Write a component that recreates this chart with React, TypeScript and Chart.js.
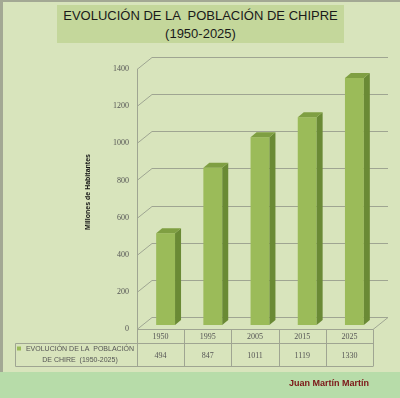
import React, { useEffect, useRef } from "react";
import { Chart, registerables } from "chart.js";

Chart.register(...registerables);

// ---- data ----
const categories = ["1950", "1995", "2005", "2015", "2025"];
const values = [494, 847, 1011, 1119, 1330];
const seriesLabelLines = ["EVOLUCIÓN DE LA  POBLACIÓN", "DE CHIRE  (1950-2025)"];
const titleLines = ["EVOLUCIÓN DE LA  POBLACIÓN DE CHIPRE", "(1950-2025)"];
const yAxisTitle = "Millones de Habitantes";
const authorText = "Juan Martín Martín";
const yMin = 0;
const yMax = 1400;
const yStep = 200;

// ---- styles ----
const BG = "#d8e4bc";
const TITLE_BG = "#c4d79b";
const BAND = "#b7dca9";
const BAR_FRONT = "#9bbb59";
const BAR_SIDE = "#6a8a35";
const BAR_TOP = "#7f9f42";
const GRID = "#9fa592";
const TEXT = "#555";
const WALL_DX = 15;
const WALL_DY = 12;
const BAR_SHIFT_X = 5;
const BAR_SHIFT_Y = 4;
const BAR_DX = 6;
const BAR_DY = 5;

const threeD = {
  id: "threeD",
  beforeDatasetsDraw(chart: any) {
    const { ctx, chartArea: a, scales } = chart;
    const y = scales.y;
    ctx.save();
    ctx.strokeStyle = GRID;
    ctx.lineWidth = 1;
    ctx.beginPath();
    y.ticks.forEach((t: any) => {
      const py = Math.round(y.getPixelForValue(t.value)) + 0.5;
      ctx.moveTo(a.left, py);
      ctx.lineTo(a.left + WALL_DX, py - WALL_DY);
      ctx.lineTo(a.right + WALL_DX, py - WALL_DY);
    });
    const y0 = Math.round(y.getPixelForValue(0)) + 0.5;
    ctx.moveTo(a.right + WALL_DX, y0 - WALL_DY);
    ctx.lineTo(a.right, y0);
    ctx.moveTo(a.left, y0);
    ctx.lineTo(a.right, y0);
    ctx.stroke();
    ctx.restore();
    ctx.save();
    ctx.translate(BAR_SHIFT_X, -BAR_SHIFT_Y);
  },
  afterDatasetsDraw(chart: any) {
    const { ctx } = chart;
    const meta = chart.getDatasetMeta(0);
    meta.data.forEach((bar: any) => {
      const { x, y, base, width } = bar.getProps(["x", "y", "base", "width"], true);
      const l = x - width / 2;
      const r = x + width / 2;
      ctx.fillStyle = BAR_SIDE;
      ctx.beginPath();
      ctx.moveTo(r, y);
      ctx.lineTo(r + BAR_DX, y - BAR_DY);
      ctx.lineTo(r + BAR_DX, base - BAR_DY);
      ctx.lineTo(r, base);
      ctx.closePath();
      ctx.fill();
      ctx.fillStyle = BAR_TOP;
      ctx.beginPath();
      ctx.moveTo(l, y);
      ctx.lineTo(l + BAR_DX, y - BAR_DY);
      ctx.lineTo(r + BAR_DX, y - BAR_DY);
      ctx.lineTo(r, y);
      ctx.closePath();
      ctx.fill();
    });
    ctx.restore();
  },
  afterDraw(chart: any) {
    const { ctx, chartArea: a, scales } = chart;
    const x = scales.x;
    const half = (x.getPixelForValue(1) - x.getPixelForValue(0)) / 2;
    const top = Math.round(a.bottom) + 0.5;
    const mid = top + 14;
    const bot = top + 37;
    const left = 15.5;
    ctx.save();
    ctx.strokeStyle = GRID;
    ctx.lineWidth = 1;
    ctx.beginPath();
    ctx.moveTo(left, mid);
    ctx.lineTo(a.right, mid);
    ctx.moveTo(left, bot);
    ctx.lineTo(a.right, bot);
    ctx.moveTo(left, mid);
    ctx.lineTo(left, bot);
    for (let i = 0; i <= categories.length; i++) {
      const px = Math.round(x.getPixelForValue(0) - half + i * 2 * half) + 0.5;
      ctx.moveTo(px, top);
      ctx.lineTo(px, bot);
    }
    ctx.stroke();
    ctx.fillStyle = TEXT;
    ctx.textAlign = "center";
    ctx.textBaseline = "middle";
    ctx.font = "8px 'Liberation Serif'";
    categories.forEach((c, i) => {
      const cx = x.getPixelForValue(i);
      ctx.fillText(c, cx, top + 7.5);
      ctx.fillText(String(values[i]), cx, mid + 12);
    });
    ctx.font = "7px 'Liberation Sans'";
    ctx.fillText(seriesLabelLines[0], 80, mid + 6);
    ctx.fillText(seriesLabelLines[1], 80, mid + 17);
    ctx.fillStyle = BAR_FRONT;
    ctx.fillRect(17, mid + 3, 4, 4);
    // y-axis title
    ctx.save();
    ctx.translate(88, 192);
    ctx.rotate(-Math.PI / 2);
    ctx.fillStyle = "#111";
    ctx.font = "bold 7px 'Liberation Sans'";
    ctx.fillText(yAxisTitle, 0, 0);
    ctx.restore();
    ctx.restore();
  },
};

export default function App() {
  const ref = useRef<HTMLCanvasElement | null>(null);
  useEffect(() => {
    if (!ref.current) return;
    const chart = new Chart(ref.current, {
      type: "bar",
      data: {
        labels: categories,
        datasets: [
          {
            label: seriesLabelLines.join(" "),
            data: values,
            backgroundColor: BAR_FRONT,
            borderWidth: 0,
            barPercentage: 0.4,
            categoryPercentage: 1,
          },
        ],
      },
      options: {
        responsive: false,
        animation: false,
        layout: { padding: { left: 80, top: 69, right: 27, bottom: 69 } },
        plugins: { legend: { display: false }, tooltip: { enabled: false }, title: { display: false } },
        scales: {
          x: { display: false },
          y: {
            min: yMin,
            max: yMax,
            ticks: {
              stepSize: yStep,
              padding: 8,
              color: TEXT,
              font: { family: "'Liberation Serif'", size: 8 },
              callback: (v: any) => String(v),
            },
            grid: { display: false, drawTicks: false },
            border: { display: true, color: GRID, width: 1 },
            title: { display: false },
            afterFit: (s: any) => {
              s.width = 57;
            },
          },
        },
      },
      plugins: [threeD],
    });
    return () => chart.destroy();
  }, []);

  return (
    <div
      style={{
        position: "absolute",
        left: 0,
        top: 0,
        width: 400,
        height: 398,
        background: BG,
        overflow: "hidden",
      }}
    >
      <div style={{ position: "absolute", left: 0, top: 0, width: 3, height: 372, background: "#a3a894" }} />
      <div style={{ position: "absolute", left: 0, top: 0, width: 400, height: 2, background: "#a3a894" }} />
      <div style={{ position: "absolute", left: 0, top: 372, width: 400, height: 26, background: BAND }} />
      <div
        style={{
          position: "absolute",
          left: 57,
          top: 5,
          width: 287,
          height: 38,
          background: TITLE_BG,
          textAlign: "center",
          fontFamily: "'Liberation Sans'",
          fontSize: 13,
          lineHeight: "18px",
          color: "#1a1a1a",
          whiteSpace: "pre",
          paddingTop: 2,
          boxSizing: "border-box",
        }}
      >
        <div>{titleLines[0]}</div>
        <div>{titleLines[1]}</div>
      </div>
      <canvas ref={ref} width={400} height={398} style={{ position: "absolute", left: 0, top: 0 }} />
      <div
        style={{
          position: "absolute",
          left: 289,
          top: 378,
          fontFamily: "'Liberation Sans'",
          fontWeight: "bold",
          fontSize: 9,
          color: "#7b1416",
          whiteSpace: "nowrap",
        }}
      >
        {authorText}
      </div>
    </div>
  );
}
